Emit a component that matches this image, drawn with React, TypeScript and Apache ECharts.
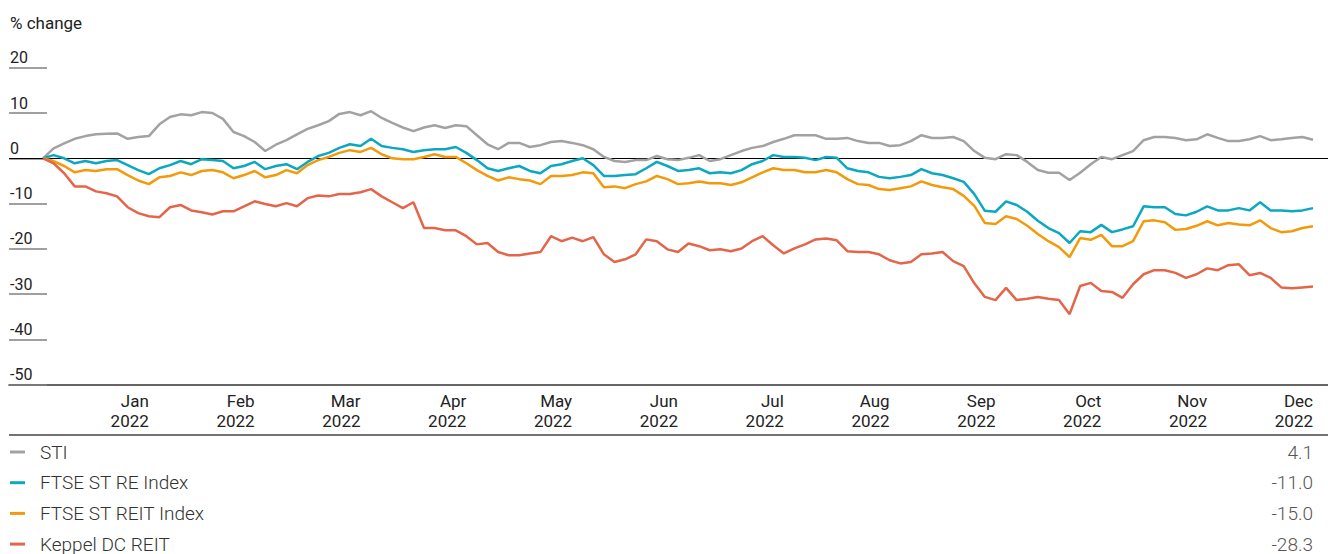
import React, { useEffect, useRef } from "react";
import * as echarts from "echarts";

const MONTHS = ["Jan", "Feb", "Mar", "Apr", "May", "Jun", "Jul", "Aug", "Sep", "Oct", "Nov", "Dec"];
const YEAR = "2022";
const POINTS_PER_MONTH = 10;
const Y_MIN = -50;
const Y_MAX = 20;
const Y_STEP = 10;
const SERIES_NAMES = ["STI", "FTSE ST RE Index", "FTSE ST REIT Index", "Keppel DC REIT"];
const COLORS = ["#a2a2a2", "#0ba8c0", "#f39a0a", "#e3664b"];

const STI = [0, 2.2, 3.3, 4.3, 4.9, 5.3, 5.4, 5.5, 4.3, 4.7,
  4.9, 7.5, 9.1, 9.7, 9.5, 10.2, 10.0, 8.7, 5.8, 4.9,
  3.6, 1.6, 3.0, 4.0, 5.3, 6.5, 7.3, 8.2, 9.8, 10.2,
  9.5, 10.4, 8.9, 7.8, 6.8, 6.0, 6.8, 7.3, 6.7, 7.3,
  7.1, 5.1, 3.1, 2.0, 3.4, 3.4, 2.5, 2.9, 3.6, 3.8,
  3.4, 2.9, 2.0, 0.3, -0.6, -0.8, -0.4, -0.4, 0.5, -0.2,
  -0.4, 0.1, 0.7, -0.6, -0.2, 0.7, 1.6, 2.3, 2.7, 3.6,
  4.3, 5.1, 5.1, 5.1, 4.3, 4.3, 4.5, 3.8, 3.4, 3.4,
  2.7, 2.9, 3.8, 5.1, 4.5, 4.5, 4.7, 3.8, 1.6, 0.1,
  -0.2, 0.9, 0.7, -0.8, -2.6, -3.2, -3.2, -4.8, -3.2, -1.3,
  0.3, -0.2, 0.7, 1.6, 4.0, 4.7, 4.7, 4.5, 4.0, 4.2,
  5.3, 4.5, 3.8, 3.8, 4.2, 4.9, 4.0, 4.2, 4.5, 4.7,
  4.1];

const FTSE_RE = [0, 0.7, 0, -1.1, -0.6, -1.1, -0.6, -0.4, -1.5, -2.6,
  -3.5, -2.2, -1.5, -0.6, -1.3, -0.2, -0.4, -0.6, -2.2, -1.7,
  -0.8, -2.4, -1.7, -1.3, -2.4, -0.8, 0.5, 1.2, 2.3, 3.1,
  2.7, 4.3, 2.7, 2.3, 2.0, 1.4, 1.8, 2.0, 2.0, 2.5,
  1.2, -0.4, -2.2, -2.8, -2.2, -1.7, -2.8, -3.3, -1.7, -1.3,
  -0.6, 0, -1.5, -3.9, -3.9, -3.7, -3.5, -2.2, -0.8, -1.7,
  -2.8, -2.6, -2.2, -3.3, -3.1, -3.3, -2.6, -1.3, -0.6, 0.7,
  0.3, 0.3, 0.1, -0.4, 0.3, 0.1, -2.2, -2.8, -3.1, -4.1,
  -4.4, -4.1, -3.7, -2.4, -3.3, -3.7, -4.4, -5.2, -7.9, -11.6,
  -11.8, -9.5, -10.3, -11.8, -13.8, -15.4, -16.5, -18.7, -16.1, -16.3,
  -14.7, -16.3, -15.7, -15.0, -10.6, -10.8, -10.8, -12.3, -12.6, -11.8,
  -10.6, -11.5, -11.5, -11.0, -11.5, -9.7, -11.5, -11.5, -11.7, -11.5,
  -11.0];

const FTSE_REIT = [0, -0.6, -1.7, -3.1, -2.6, -2.8, -2.4, -2.4, -3.7, -4.9,
  -5.7, -4.2, -3.9, -3.1, -3.7, -2.8, -2.6, -3.1, -4.4, -3.7,
  -2.8, -4.2, -3.7, -2.6, -3.3, -1.5, -0.4, 0.3, 1.2, 1.8,
  1.4, 2.3, 0.9, 0, -0.2, -0.2, 0.3, 0.9, 0.3, 0.3,
  -1.1, -2.6, -3.9, -4.9, -4.2, -4.6, -4.9, -5.7, -3.9, -3.9,
  -3.7, -3.1, -3.3, -6.4, -6.2, -6.6, -5.7, -5.1, -3.9, -4.6,
  -5.7, -5.5, -5.1, -5.5, -5.5, -5.9, -5.3, -4.2, -3.1, -2.2,
  -2.6, -2.6, -3.1, -3.1, -2.6, -3.1, -4.6, -5.7, -5.9, -6.8,
  -7.0, -6.6, -6.2, -5.1, -5.9, -6.4, -6.8, -8.3, -10.5, -14.3,
  -14.5, -12.8, -13.4, -14.9, -16.7, -18.3, -19.6, -21.8, -17.6, -18.0,
  -16.9, -19.4, -19.4, -18.3, -13.9, -13.7, -14.1, -15.8, -15.6, -14.9,
  -13.9, -14.8, -14.3, -14.6, -14.8, -13.7, -15.4, -16.3, -16.1, -15.4,
  -15.0];

const KEPPEL_DC = [0, -1.1, -3.3, -6.2, -6.2, -7.3, -7.7, -8.4, -10.8, -12.1,
  -12.8, -13.0, -10.8, -10.3, -11.5, -11.9, -12.4, -11.7, -11.7, -10.6,
  -9.5, -10.1, -10.6, -9.9, -10.6, -8.8, -8.2, -8.4, -7.9, -7.9,
  -7.5, -6.8, -8.4, -9.7, -11.0, -9.7, -15.4, -15.4, -15.9, -15.9,
  -17.2, -19.0, -18.7, -20.7, -21.4, -21.4, -21.0, -20.7, -17.2, -18.3,
  -17.5, -18.3, -17.4, -21.2, -22.9, -22.3, -21.2, -17.9, -18.3, -20.1,
  -20.7, -18.8, -19.4, -20.3, -20.1, -20.5, -19.9, -18.3, -17.2, -19.2,
  -21.0, -19.9, -19.0, -17.9, -17.7, -18.1, -20.5, -20.7, -20.7, -21.2,
  -22.5, -23.2, -22.9, -21.2, -21.0, -20.7, -22.7, -23.8, -27.6, -30.6,
  -31.3, -28.6, -31.3, -31.0, -30.6, -31.0, -31.3, -34.4, -28.2, -27.5,
  -29.3, -29.5, -30.8, -27.8, -25.6, -24.7, -24.7, -25.3, -26.4, -25.6,
  -24.3, -24.7, -23.6, -23.4, -25.8, -25.3, -26.4, -28.5, -28.7, -28.5,
  -28.3];

const SERIES_DATA = [STI, FTSE_RE, FTSE_REIT, KEPPEL_DC];

const W = 1328;
const H = 554;
const FONT = "Roboto, 'Noto Sans', sans-serif";

export default function App() {
  const ref = useRef<HTMLDivElement>(null);

  useEffect(() => {
    if (!ref.current) return;
    const chart = echarts.init(ref.current, null, { renderer: "svg" });

    const lastIndex = STI.length - 1;
    // pixel layout: grid spans 9..1328, data spans 43..1313
    const gridLeft = 9;
    const dataLeft = 43;
    const dataRight = 1313;
    const unit = (dataRight - dataLeft) / lastIndex;
    const xMin = -(dataLeft - gridLeft) / unit;
    const xMax = lastIndex + (W - dataRight) / unit;
    const monthTicks = MONTHS.map((_, i) => (i + 1) * POINTS_PER_MONTH);

    const legendTop = 442;
    const rowH = 30.7;

    const option: any = {
      animation: false,
      backgroundColor: "#ffffff",
      textStyle: { fontFamily: FONT },
      grid: { left: gridLeft, right: 0, top: 67.7, bottom: H - 384.8, containLabel: false, outerBoundsMode: "none" },
      xAxis: {
        type: "value",
        min: xMin,
        max: xMax,
        splitLine: { show: false },
        axisTick: { show: false },
        axisLine: { show: true, onZero: false, lineStyle: { color: "#333", width: 1.5 } },
        axisLabel: {
          customValues: monthTicks,
          formatter: (v: number) => {
            const m = Math.round(v / POINTS_PER_MONTH) - 1;
            return m >= 0 && m < MONTHS.length ? `${MONTHS[m]}\n${YEAR}` : "";
          },
          align: "right",
          margin: 6,
          lineHeight: 20,
          fontSize: 17,
          color: "#222",
          fontFamily: FONT,
          hideOverlap: false,
        },
      },
      yAxis: {
        type: "value",
        min: Y_MIN,
        max: Y_MAX,
        interval: Y_STEP,
        axisLine: { show: false, onZero: false },
        splitLine: { show: false },
        axisTick: { show: true, inside: true, length: 38, lineStyle: { color: "#808080", width: 1.5 } },
        axisLabel: {
          inside: true,
          margin: 1,
          align: "left",
          verticalAlign: "bottom",
          lineHeight: 20,
          fontSize: 16,
          color: "#222",
          fontFamily: FONT,
        },
      },
      legend: {
        orient: "vertical",
        left: 10,
        top: legendTop,
        height: 140,
        padding: 0,
        itemWidth: 15,
        itemHeight: 3,
        itemGap: rowH - 20,
        icon: "rect",
        selectedMode: false,
        data: SERIES_NAMES,
        textStyle: {
          fontSize: 19,
          fontWeight: 300,
          fontFamily: FONT,
          color: "#333",
          lineHeight: 20,
          padding: [0, 0, 0, 10],
        },
      },
      graphic: [
        {
          type: "text",
          x: 10,
          y: 23,
          style: { text: "% change", fill: "#222", font: `17px ${FONT}`, verticalAlign: "middle", align: "left" },
        },
        {
          type: "line",
          shape: { x1: gridLeft, y1: 435, x2: W, y2: 435 },
          style: { stroke: "#444", lineWidth: 1.5 },
        },
        ...SERIES_DATA.map((d, i) => ({
          type: "text",
          x: dataRight,
          y: legendTop + 10 + i * rowH,
          style: {
            text: d[d.length - 1].toFixed(1),
            fill: "#555",
            font: `300 19px ${FONT}`,
            align: "right",
            verticalAlign: "middle",
          },
        })),
      ],
      series: SERIES_DATA.map((d, i) => ({
        name: SERIES_NAMES[i],
        type: "line",
        data: d.map((v, k) => [k, v]),
        symbol: "none",
        showSymbol: false,
        lineStyle: { width: 2.5, color: COLORS[i] },
        itemStyle: { color: COLORS[i] },
        z: 3,
        markLine:
          i === 0
            ? {
                silent: true,
                symbol: "none",
                label: { show: false },
                lineStyle: { color: "#000", width: 1.2, type: "solid" },
                data: [{ yAxis: 0 }],
                z: 1,
              }
            : undefined,
      })),
    };

    chart.setOption(option);
    return () => chart.dispose();
  }, []);

  return (
    <div
      ref={ref}
      style={{ position: "fixed", left: 0, top: 0, width: W, height: H, background: "#fff" }}
    />
  );
}
